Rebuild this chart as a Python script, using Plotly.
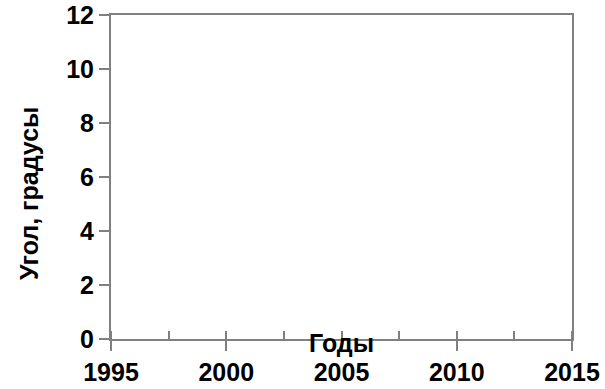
import plotly.graph_objects as go

# Data (chart is empty: no series plotted)
years = []
angles = []

x_ticks = [1995, 2000, 2005, 2010, 2015]
y_ticks = [0, 2, 4, 6, 8, 10, 12]
x_title = "Годы"
y_title = "Угол, градусы"

FONT = "Liberation Sans, Arial, sans-serif"
AX = "#808080"
TF = dict(family=FONT, size=25, color="black", weight="bold")

fig = go.Figure()
fig.add_trace(go.Scatter(x=years, y=angles, mode="lines", showlegend=False))

fig.update_layout(
    width=605, height=389,
    margin=dict(l=111, r=33, t=15, b=50),
    paper_bgcolor="white", plot_bgcolor="white",
    font=dict(family=FONT, size=25, color="black"),
    showlegend=False,
)

fig.update_xaxes(
    range=[x_ticks[0], x_ticks[-1]], automargin=False, ticklabeloverflow="allow",
    tickvals=x_ticks, ticktext=[str(v) for v in x_ticks],
    tickfont=TF,
    ticks="outside", ticklen=10, tickwidth=2, tickcolor=AX,
    minor=dict(ticks="inside", ticklen=8, tickwidth=2, tickcolor=AX, dtick=2.5, tick0=1995),
    showline=True, linecolor=AX, linewidth=2, mirror=True,
    showgrid=False, zeroline=False,
)
fig.update_yaxes(
    range=[y_ticks[0], y_ticks[-1]], automargin=False, ticklabeloverflow="allow",
    tickvals=y_ticks, ticktext=[str(v) for v in y_ticks],
    tickfont=TF,
    ticks="outside", ticklen=10, tickwidth=2, tickcolor=AX,
    showline=True, linecolor=AX, linewidth=2, mirror=True,
    showgrid=False, zeroline=False,
)

fig.add_annotation(
    text=x_title, xref="paper", yref="paper", x=0.5, y=0,
    xanchor="center", yanchor="middle", yshift=-4, showarrow=False,
    font=TF,
)
fig.add_annotation(
    text=y_title, xref="paper", yref="paper", x=0, y=0.5, textangle=-90,
    xanchor="center", yanchor="middle", xshift=-82, yshift=-17, showarrow=False,
    font=TF,
)

# remove the page's default 8px body margin so the figure fills the window
fig.write_html("out.html", config={"displayModeBar": False},
               post_script="document.body.style.margin='0';")
